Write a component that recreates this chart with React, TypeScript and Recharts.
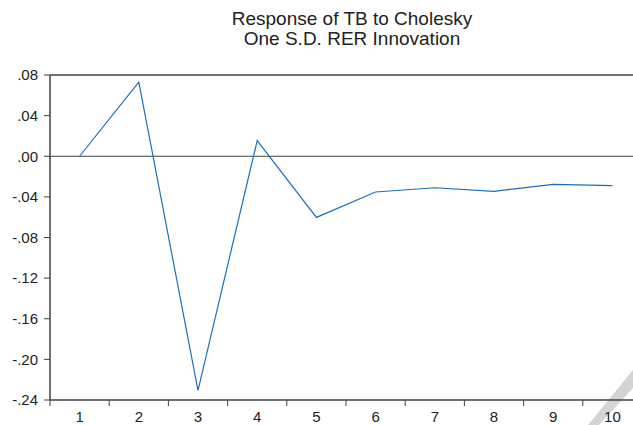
import { LineChart, Line, XAxis, YAxis, ReferenceLine } from "recharts";

// impulse response, periods 1..10
const periods = [1, 2, 3, 4, 5, 6, 7, 8, 9, 10];
const response = [0.0, 0.073, -0.2305, 0.0154, -0.0602, -0.0352, -0.0310, -0.0345, -0.0277, -0.0290];
const yTicks = [-0.24, -0.2, -0.16, -0.12, -0.08, -0.04, 0, 0.04, 0.08];
const xBounds = [0.5, 1.5, 2.5, 3.5, 4.5, 5.5, 6.5, 7.5, 8.5, 9.5, 10.5];

const rows = periods.map((p, i) => ({ period: p, value: response[i] }));

const AXIS = "#404040";
const LINE = "#1b6fbf";
const FONT = "'Liberation Sans', Arial, sans-serif";

const fmtY = (v: number) => v.toFixed(2).replace("0.", ".");

// tick mark sits on the band boundary, label in the middle of the band
const XTick = (props: any) => {
  const { x, y, payload } = props;
  const half = 592 / 20;
  const v = payload.value as number;
  return (
    <g>
      <line x1={x} y1={y - 8} x2={x} y2={y - 2} stroke={AXIS} strokeWidth={1} />
      {v < 10 && (
        <text x={x + half} y={y + 14} textAnchor="middle" fill="#222" fontSize={15} fontFamily={FONT}>
          {v + 0.5}
        </text>
      )}
    </g>
  );
};

export default function App() {
  return (
    <div style={{ position: "absolute", left: 0, top: 0, width: 633, height: 425, overflow: "hidden", background: "#fff" }}>
      {/* folded-corner mark in the bottom right of the scan */}
      <svg width={633} height={425} style={{ position: "absolute", left: 0, top: 0 }}>
        <polygon points="633,370 633,388 599,425 588,425" fill="#d4d4d4" />
      </svg>
      <div style={{ position: "absolute", left: 0, top: 9, width: 704, textAlign: "center", fontFamily: FONT, fontSize: 19, lineHeight: "20px", color: "#222" }}>
        <div>Response of TB to Cholesky</div>
        <div>One S.D. RER Innovation</div>
      </div>
      <div style={{ position: "absolute", left: 0, top: 0 }}>
        <LineChart width={650} height={425} data={rows} margin={{ top: 75, right: 8, bottom: 0, left: 8 }}>
          <XAxis
            type="number" dataKey="period" domain={[0.5, 10.5]} ticks={xBounds}
            interval={0} allowDataOverflow
            axisLine={{ stroke: AXIS, strokeWidth: 1.5 }} tickLine={false}
            tick={<XTick />} height={25}
          />
          <YAxis
            type="number" domain={[-0.24, 0.08]} ticks={yTicks} interval={0}
            tickFormatter={fmtY} width={42}
            axisLine={{ stroke: AXIS, strokeWidth: 1.5 }}
            tickLine={{ stroke: AXIS }} tickSize={6} tickMargin={6}
            tick={{ fill: "#222", fontSize: 15, fontFamily: FONT }}
          />
          <ReferenceLine y={0.08} stroke={AXIS} strokeWidth={1.5} />
          <ReferenceLine y={0} stroke={AXIS} strokeWidth={1} />
          <Line
            type="linear" dataKey="value" stroke={LINE} strokeWidth={1.2}
            dot={false} isAnimationActive={false}
          />
        </LineChart>
      </div>
    </div>
  );
}
